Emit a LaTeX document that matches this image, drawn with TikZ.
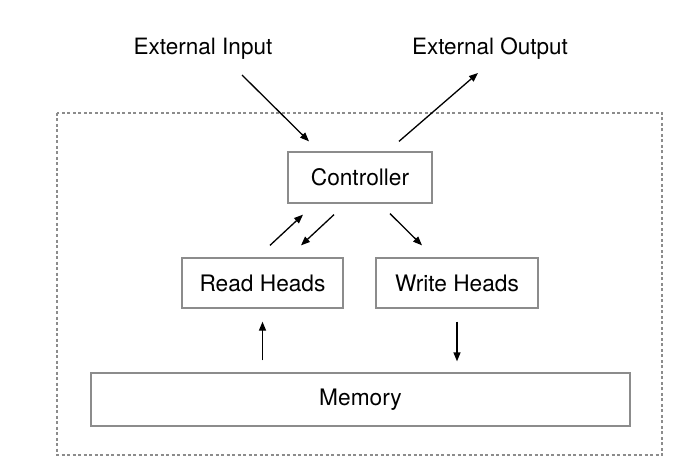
\documentclass[tikz,border=0pt]{standalone}
\usepackage{fontspec}
\setmainfont{TeX Gyre Heros}
\usepackage{xcolor}
\usepackage{tikz}
\usetikzlibrary{arrows.meta}
\definecolor{edgegray}{RGB}{140,140,140}

\begin{document}
\begin{tikzpicture}[
    x=1pt, y=-1pt,
    >={Triangle[length=9pt, width=7pt]},
    block/.style={draw=edgegray, line width=1.3pt, inner sep=0pt,
                  font=\fontsize{22.7}{26}\selectfont},
    arrow/.style={->, line width=1.3pt, black},
    extlabel/.style={inner sep=0pt, font=\fontsize{22.5}{26}\selectfont}
]
    \useasboundingbox (0,0) rectangle (694,468);

    % Frame
    \draw[edgegray, line width=1.1pt, dash pattern=on 3pt off 2.5pt] (57,113) rectangle (662,455);

    % Outside
    \node[extlabel] (input) at (203,49) {External Input};
    \node[extlabel] (output) at (490,49) {External Output};

    % Controller
    \node[block, minimum width=144pt, minimum height=51pt] (ctrl) at (360,177.5) {Controller};

    % Heads
    \node[block, minimum width=161pt, minimum height=50pt] (read) at (262.5,283) {Read Heads};
    \node[block, minimum width=162pt, minimum height=50pt] (write) at (457,283) {Write Heads};

    % Memory
    \node[block, minimum width=539pt, minimum height=53pt] (memory) at (360.5,399.5) {Memory};

    % Arrows
    \draw[arrow] ([xshift=39pt, yshift=-26pt]input.center) -- ([xshift=-51pt, yshift=10pt]ctrl.north);
    \draw[arrow] ([xshift=39pt, yshift=10pt]ctrl.north) -- ([xshift=-12pt, yshift=-24pt]output.center);
    \draw[arrow] ([xshift=7.5pt, yshift=12pt]read.north) -- ([xshift=-57pt, yshift=-11pt]ctrl.south);
    \draw[arrow] ([xshift=-26pt, yshift=-11pt]ctrl.south) -- ([xshift=38.5pt, yshift=12pt]read.north);
    \draw[arrow] ([xshift=30pt, yshift=-10pt]ctrl.south) -- ([xshift=-35pt, yshift=12pt]write.north);
    \draw[arrow, shorten <=13pt, shorten >=11pt] (write.south) -- (write.south |- memory.north);
    \draw[arrow, shorten <=12pt, shorten >=13pt] (memory.north -| read.south) -- (read.south);
\end{tikzpicture}
\end{document}
